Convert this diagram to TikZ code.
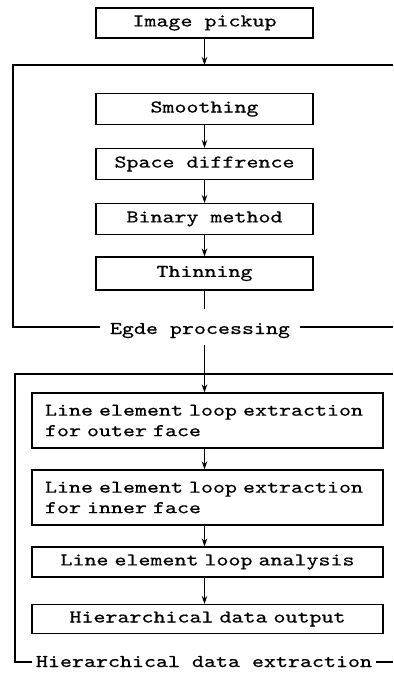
\documentclass[tikz,border=0pt]{standalone}
\usepackage{fontspec}
\newfontfamily\tw{lmmono10-regular}[Extension=.otf, FakeStretch=1.27, FakeBold=0.5, WordSpace={1,0,0}]
\usetikzlibrary{arrows.meta}
\begin{document}
\begin{tikzpicture}[x=1pt,y=-1pt,
  txt/.style={font=\tw\fontsize{18}{20.5}\selectfont},
  box/.style={txt, draw, line width=1.1pt},
  upper/.style={box, minimum width=217pt, minimum height=31pt, inner sep=0pt},
  lower/.style={box, minimum width=351pt, text width=325pt, inner xsep=13pt, inner ysep=0pt},
  flow/.style={line width=1pt, -{Stealth[length=8pt,width=5.5pt]}},
  plain/.style={line width=1pt},
  frame/.style={line width=1.1pt},
  tag/.style={txt, anchor=base, inner ysep=0pt}]
\useasboundingbox (0,0) rectangle (393,679);

% upper chain
\node[upper, minimum height=30pt] (pick) at (204.5,23) {Image pickup};
\node[upper] (smooth) at (204.5,109) {Smoothing};
\node[upper] (space)  at (204.5,164) {Space diffrence};
\node[upper] (binary) at (204.5,219) {Binary method};
\node[upper, minimum height=33pt] (thin) at (204.5,273.5) {Thinning};

% lower chain
\node[lower, minimum height=55pt, align=left] (outer) at (207.5,420.5)
  {Line element loop extraction\\for outer face};
\node[lower, minimum height=55pt, align=left] (inner) at (207.5,497.5)
  {Line element loop extraction\\for inner face};
\node[lower, minimum height=30pt, align=center] (anal) at (207.5,562)
  {Line element loop analysis};
\node[lower, minimum height=29pt, align=center] (out) at (207.5,619)
  {Hierarchical data output};

% group labels
\node[tag, inner xsep=10pt] (lbl1) at (200,334) {Egde processing};
\node[tag, inner xsep=4pt] (lbl2) at (204,667) {Hierarchical data extraction};

% frame corners
\coordinate (f1t) at (13,65);
\coordinate (f1b) at (13,327);
\coordinate (f2t) at (15,374);
\coordinate (f2b) at (15,662);

% frames, open to the right
\draw[frame] (393,65) -- (f1t) -- (f1b) -- (lbl1.west |- f1b);
\draw[frame] (lbl1.east |- f1b) -- (393,327);
\draw[frame] (393,374) -- (f2t) -- (f2b) -- (lbl2.west |- f2b);
\draw[frame] (lbl2.east |- f2b) -- (393,662);

% connectors
\draw[flow] (pick) -- (pick.south |- f1t);
\draw[flow] (smooth) -- (space);
\draw[flow] (space) -- (binary);
\draw[flow] (binary) -- (thin);
\coordinate (c1) at ([yshift=-18pt]thin.south);
\coordinate (c2) at (thin.south |- 0,345);
\draw[plain] (thin.south) -- (c1);
\draw[flow] (c2) -- (c2 |- outer.north);
\draw[flow] (outer.south -| c2) -- (inner.north -| c2);
\draw[flow] (inner.south -| c2) -- (anal.north -| c2);
\draw[flow] (anal.south -| c2) -- (out.north -| c2);
\end{tikzpicture}
\end{document}
